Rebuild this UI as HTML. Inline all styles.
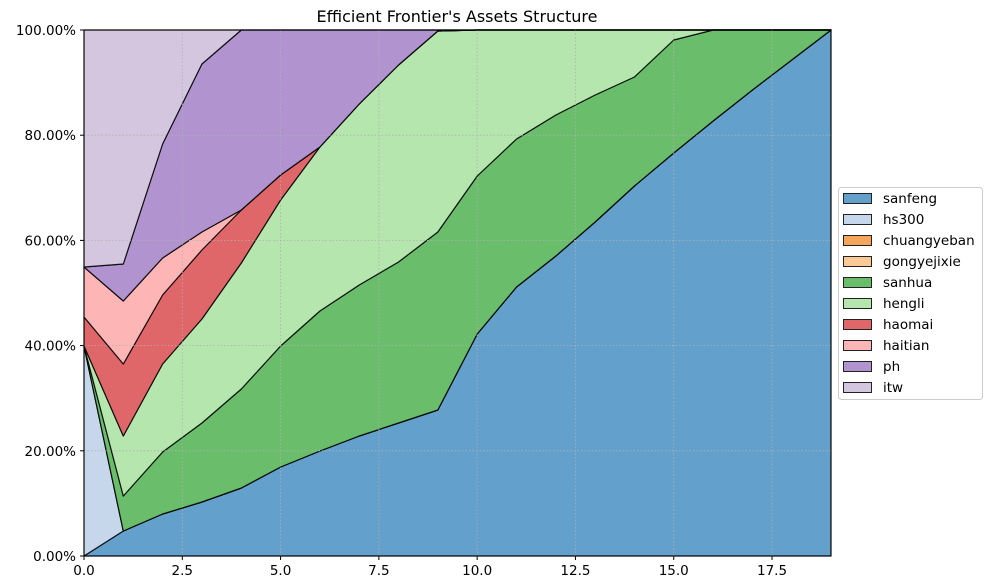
<!DOCTYPE html>
<html><head><style>body{margin:0;background:#fff}svg{display:block;font-family:"DejaVu Sans","Liberation Sans",sans-serif}</style></head>
<body>
<svg width="997" height="585" viewBox="0 0 997 585">
</svg>
<script>
var X=i=>84+747/19*i;
var L={
sf:[556,531,514,502,488,467,451,436,423,410,334,287,256,222,186,153,121,90,60,30],
sh:[346,496,452,423,389,346,311,285,262,232,176,139,115,95,77,40,30,30,30,30],
he:[346,436,364,319,263,200,147,104,65,31,30,30,30,30,30,30,30,30,30,30],
ha:[317,364,295,250,210,175,147,104,65,31,30,30,30,30,30,30,30,30,30,30],
ht:[267,301,258,232,210,175,147,104,65,31,30,30,30,30,30,30,30,30,30,30],
ph:[267,264,144,64,30,30,30,30,30,30,30,30,30,30,30,30,30,30,30,30],
it:Array(20).fill(30)};
var hs=L.sf.slice();hs[0]=346;
var layers=[[Array(20).fill(556),L.sf,"#63a0cb"],[L.sf,hs,"#c6d7ec"],[hs,hs,"#f5a65c"],[hs,L.sh,"#6abd6a"],[L.sh,L.he,"#b4e6ae"],[L.he,L.ha,"#e06769"],[L.ha,L.ht,"#feb5b5"],[L.ht,L.ph,"#b193cf"],[L.ph,L.it,"#d4c6df"]];
var s='';
layers.forEach(l=>{var a=l[0],b=l[1],p='';for(var i=0;i<20;i++)p+=X(i).toFixed(1)+','+b[i]+' ';for(var i=19;i>=0;i--)p+=X(i).toFixed(1)+','+a[i]+' ';
s+='<polygon points="'+p+'" fill="'+l[2]+'" stroke="#000" stroke-opacity="0.85" stroke-width="1.2" stroke-linejoin="round"/>';});
for(var k=0;k<=7;k++){var x=84+747/19*2.5*k;s+='<line x1="'+x+'" y1="30" x2="'+x+'" y2="556" stroke="#b0b0b0" stroke-dasharray="1.5,2" stroke-width="0.8"/>';
s+='<line x1="'+x+'" y1="556" x2="'+x+'" y2="560" stroke="#000"/><text x="'+x+'" y="575" font-size="13.5" text-anchor="middle">'+(2.5*k).toFixed(1)+'</text>';}
for(var k=0;k<=5;k++){var y=556-105.2*k;s+='<line x1="84" y1="'+y+'" x2="831" y2="'+y+'" stroke="#b0b0b0" stroke-dasharray="1.5,2" stroke-width="0.8"/>';
s+='<line x1="80" y1="'+y+'" x2="84" y2="'+y+'" stroke="#000"/><text x="76" y="'+(y+5)+'" font-size="13.5" text-anchor="end">'+(20*k).toFixed(2)+'%</text>';}
s+='<rect x="84" y="30" width="747" height="526" fill="none" stroke="#000"/>';
s+='<text x="457" y="22" font-size="16" text-anchor="middle">Efficient Frontier\'s Assets Structure</text>';
s+='<rect x="838.5" y="187.5" width="144" height="212" rx="3" fill="#fff" stroke="#ccc"/>';
var names=["sanfeng","hs300","chuangyeban","gongyejixie","sanhua","hengli","haomai","haitian","ph","itw"];
var cols=["#63a0cb","#c6d7ec","#f5a65c","#fdc997","#6abd6a","#b4e6ae","#e06769","#feb5b5","#b193cf","#d4c6df"];
names.forEach((n,i)=>{var y=193+21*i;s+='<rect x="843.5" y="'+(y+0.5)+'" width="28" height="10" fill="'+cols[i]+'" stroke="#222"/><text x="883" y="'+(y+10)+'" font-size="13.5">'+n+'</text>';});
document.querySelector('svg').insertAdjacentHTML('beforeend',s);
</script>
</body></html>
